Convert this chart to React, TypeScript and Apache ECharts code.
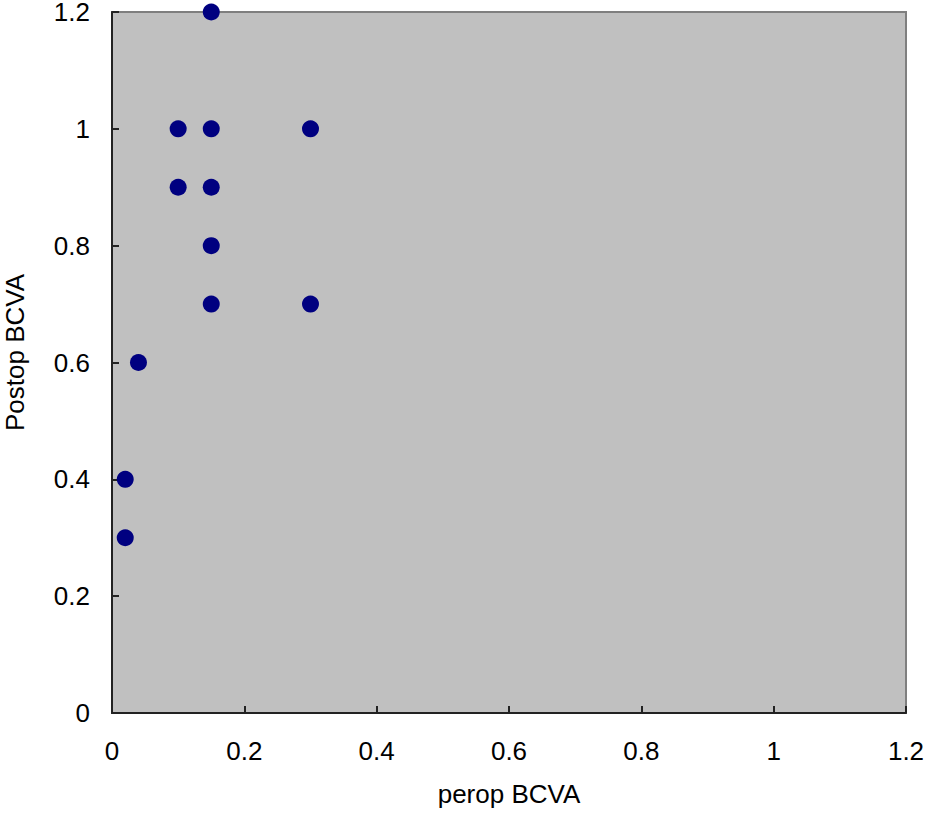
import React, { useEffect, useRef } from "react";
import * as echarts from "echarts";

const perop: number[] = [0.15, 0.1, 0.15, 0.3, 0.1, 0.15, 0.15, 0.15, 0.3, 0.04, 0.02, 0.02];
const postop: number[] = [1.2, 1.0, 1.0, 1.0, 0.9, 0.9, 0.8, 0.7, 0.7, 0.6, 0.4, 0.3];
const xTitle = "perop BCVA";
const yTitle = "Postop BCVA";

export default function App() {
  const ref = useRef<HTMLDivElement>(null);
  useEffect(() => {
    if (!ref.current) return;
    const chart = echarts.init(ref.current, undefined, { renderer: "svg" });
    const font = "'Liberation Sans', Arial, sans-serif";
    const fmt = (v: number) => String(Math.round(v * 10) / 10);
    chart.setOption({
      animation: false,
      backgroundColor: "#ffffff",
      grid: {
        left: 112,
        right: 22,
        top: 12,
        bottom: 127,
        outerBoundsMode: "none",
        containLabel: false,
        show: true,
        backgroundColor: "#c0c0c0",
        borderColor: "#7f7f7f",
        borderWidth: 2,
      },
      xAxis: {
        type: "value",
        min: 0,
        max: 1.2,
        interval: 0.2,
        name: xTitle,
        nameLocation: "middle",
        nameGap: 68,
        nameTextStyle: { fontFamily: font, fontSize: 26, color: "#000" },
        axisLine: { show: true, onZero: false, lineStyle: { color: "#222", width: 2 } },
        axisTick: { show: true, inside: true, length: 7, lineStyle: { color: "#222", width: 2 } },
        axisLabel: { fontFamily: font, fontSize: 26, color: "#000", margin: 25, formatter: fmt },
        splitLine: { show: false },
      },
      yAxis: {
        type: "value",
        min: 0,
        max: 1.2,
        interval: 0.2,
        name: yTitle,
        nameLocation: "middle",
        nameGap: 84,
        nameTextStyle: { fontFamily: font, fontSize: 26, color: "#000", padding: [0, 0, 0, 20] },
        axisLine: { show: true, onZero: false, lineStyle: { color: "#222", width: 2 } },
        axisTick: { show: true, inside: true, length: 7, lineStyle: { color: "#222", width: 2 } },
        axisLabel: { fontFamily: font, fontSize: 26, lineHeight: 22, color: "#000", margin: 22, formatter: fmt },
        splitLine: { show: false },
      },
      series: [
        {
          type: "scatter",
          data: perop.map((x, i) => [x, postop[i]]),
          symbol: "circle",
          symbolSize: 17,
          itemStyle: { color: "#000080", opacity: 1 },
        },
      ],
    });
    return () => chart.dispose();
  }, []);
  return (
    <div
      ref={ref}
      style={{ position: "absolute", left: 0, top: 0, width: 928, height: 840 }}
    />
  );
}
